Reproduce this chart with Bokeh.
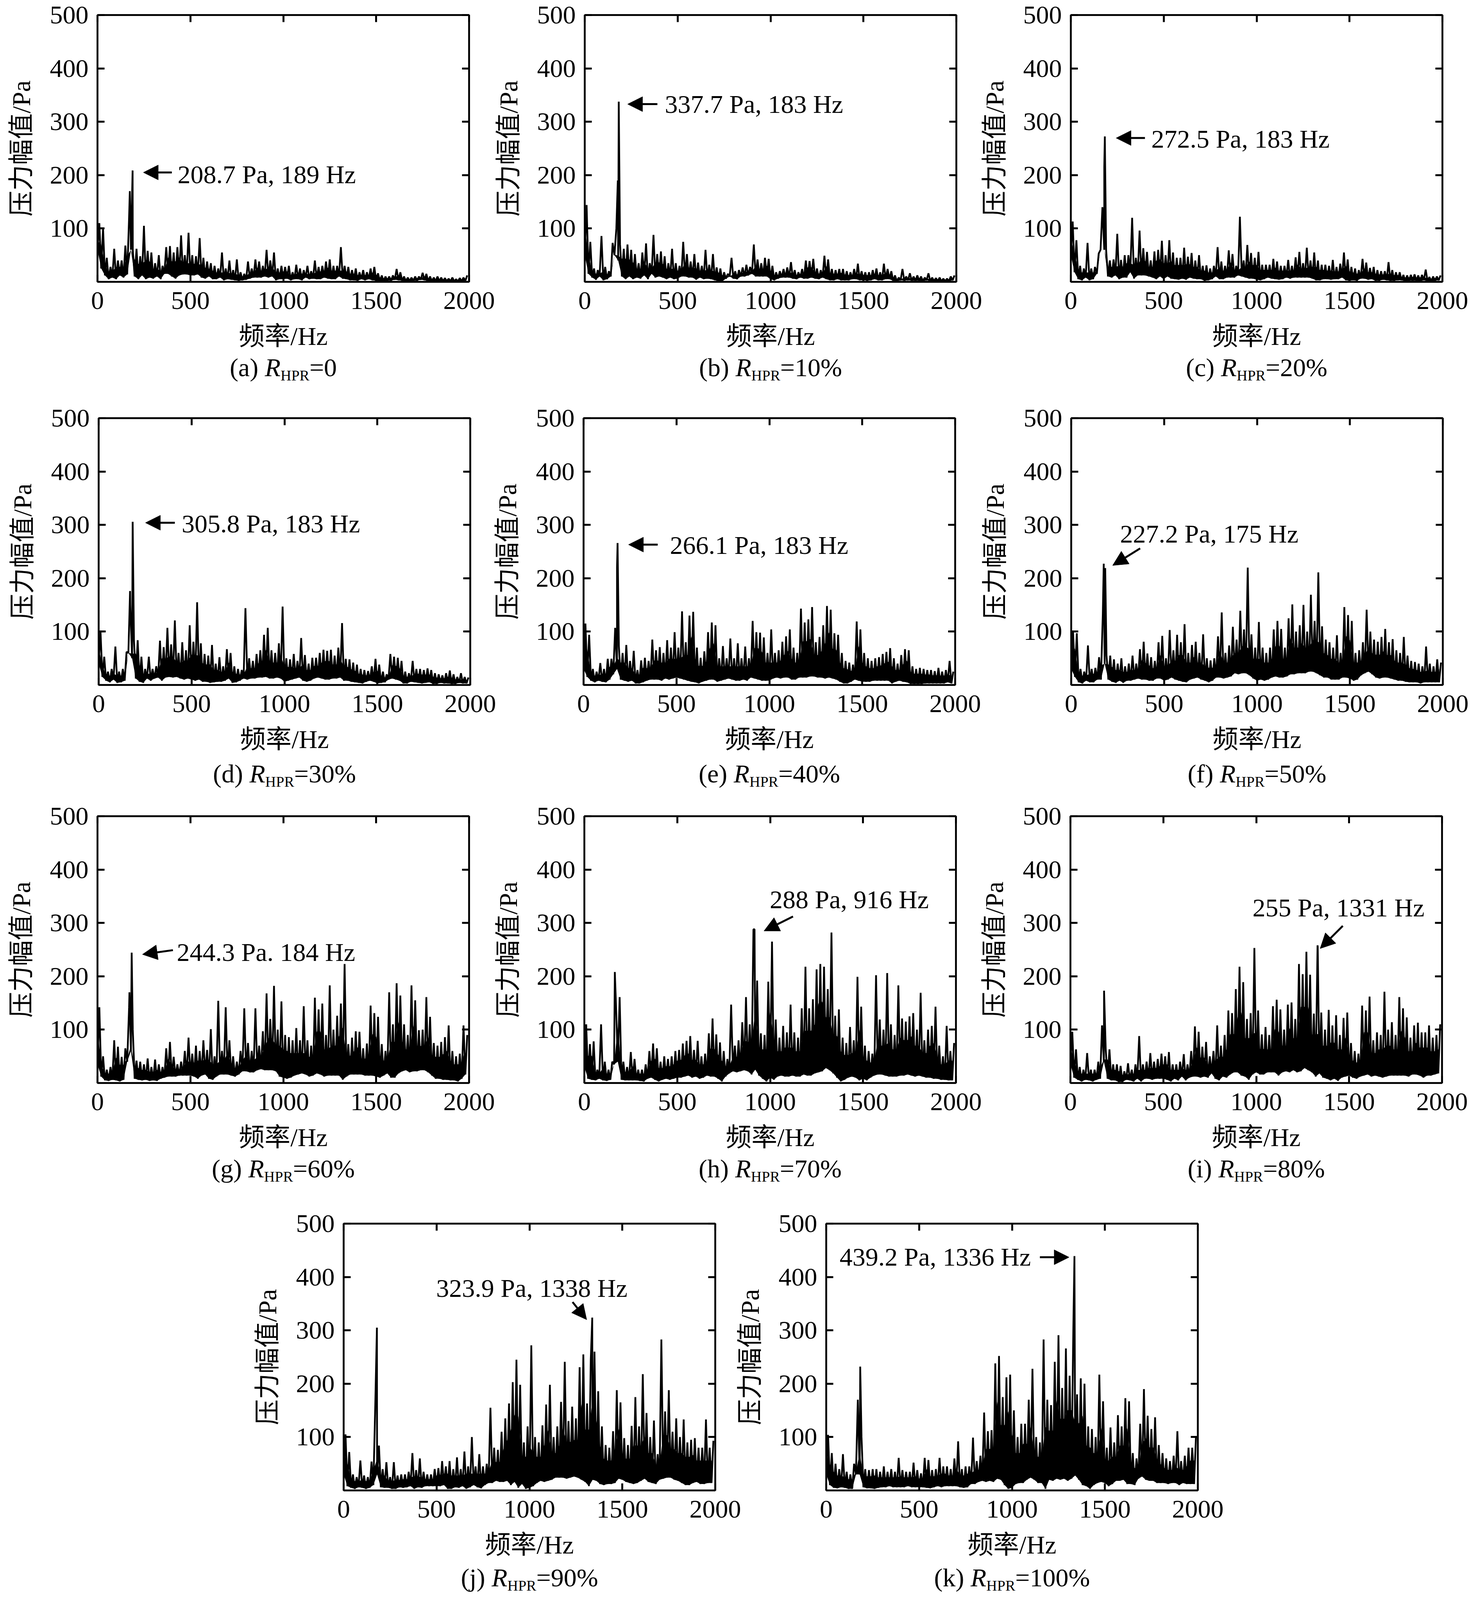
import math
import numpy as np
from bokeh.plotting import figure
from bokeh.layouts import column, row
from bokeh.models import Arrow, NormalHead, LinearAxis, FixedTicker, Range1d, Spacer
from bokeh.core.properties import value
from bokeh.embed import file_html
from bokeh.resources import INLINE

# ---- values: upper / lower readings per 20 Hz bin ----
hi_a = [110,100,45,28,62,40,40,68,120,60, 62,48,105,58,55,35,50,30,65,67, 55,65,87,50,92,50,48,82,45,38, 35,30,25,55,25,40,22,42,18,15, 38,25,42,38,30,60,40,55,25,30, 28,30,18,32,25,22,30,20,40,28, 30,38,42,30,30,65,30,28,22,25, 18,22,18,25,28,16,12,10,10,12, 24,18,10,8,8,10,10,17,15,10, 8,10,8,7,6,8,5,7,8,12]
lo_a = [60,25,12,5,8,5,12,8,14,60, 10,5,12,5,8,6,10,5,15,15, 10,6,12,14,14,12,12,14,8,6, 10,5,5,8,3,5,4,3,2,3, 4,6,8,8,8,10,8,10,3,5, 5,6,3,5,5,3,8,5,6,5, 5,8,6,5,5,10,6,5,3,3, 2,5,3,5,3,2,1,1,2,2, 4,3,2,1,1,2,2,4,3,1, 1,1,1,1,1,1,1,1,1,2]
hi_b = [144,75,25,22,86,28,20,73,100,70, 62,70,60,52,35,55,72,35,88,52, 57,48,35,62,35,30,75,52,38,52, 36,30,60,32,52,27,25,18,15,45, 20,22,27,32,28,70,42,35,45,43, 30,18,20,24,27,37,22,18,24,40, 39,43,25,22,49,42,24,22,24,24, 20,18,24,34,20,18,18,22,25,18, 34,24,20,12,8,24,10,16,10,12, 10,8,16,8,7,8,6,6,10,12]
lo_b = [50,15,8,4,10,3,5,10,50,40, 10,5,10,5,8,6,12,5,15,8, 10,8,5,8,5,6,10,10,8,8, 4,8,5,6,5,3,1,1,6,10, 6,5,10,10,12,15,10,10,10,10, 5,3,6,8,8,8,6,5,8,6, 6,8,6,5,8,5,3,3,5,3, 3,3,5,5,3,3,2,3,5,3, 3,5,5,2,1,3,2,3,2,2, 2,1,3,1,1,1,1,1,1,3]
hi_c = [113,78,30,25,73,25,28,53,140,60, 40,42,90,41,50,50,120,45,96,63, 56,40,57,60,77,50,78,55,45,45, 64,47,54,40,50,30,31,25,30,65, 38,30,59,52,30,122,40,69,54,45, 56,32,32,32,43,38,30,30,41,30, 46,56,35,64,40,55,40,32,32,30, 41,28,34,55,42,28,25,22,43,36, 26,28,22,20,20,37,22,18,18,13, 12,13,14,12,13,23,9,10,10,12]
lo_c = [50,18,5,3,8,3,5,15,60,60, 10,8,12,5,8,8,18,6,12,12, 12,10,8,5,10,5,10,6,5,4, 6,4,8,6,5,5,2,3,5,10, 5,5,8,8,8,12,10,8,6,6, 4,3,5,8,6,5,4,5,8,6, 8,8,8,8,8,6,3,3,5,5, 4,5,5,8,3,2,3,2,6,6, 4,5,2,2,4,3,2,2,3,3, 1,2,2,2,1,3,1,1,2,3]
hi_d = [100,53,25,30,72,25,30,62,150,84, 84,53,30,53,30,35,83,71,107,76, 121,60,80,65,112,81,155,78,58,55, 75,40,52,35,67,60,35,30,28,144, 50,45,58,65,94,107,65,60,78,147, 50,48,58,45,88,56,40,51,51,60, 66,64,66,55,70,116,49,48,42,38, 30,28,26,35,49,38,25,20,58,53, 51,45,25,22,45,30,30,28,31,28, 22,20,18,22,27,20,15,22,15,14]
lo_d = [40,15,8,5,10,4,5,8,60,50, 12,6,4,12,8,12,14,8,14,15, 14,15,12,10,12,10,8,10,6,6, 4,5,6,6,8,12,4,5,8,12, 10,12,12,14,14,15,12,12,14,12, 6,8,10,12,14,8,6,8,12,14, 12,10,10,12,12,14,8,8,6,5, 4,3,6,8,6,3,4,5,10,12, 10,8,3,3,6,5,4,3,4,5, 2,2,4,3,3,2,2,4,3,3]
hi_e = [115,94,30,25,41,30,49,49,107,73, 60,75,45,64,28,46,51,45,85,65, 71,60,84,70,99,70,138,80,130,137, 70,51,63,99,117,112,50,73,50,87, 50,78,50,72,50,120,99,98,89,60, 104,60,65,81,91,104,70,60,143,117, 123,146,80,90,112,148,141,97,94,60, 45,42,38,119,104,60,50,45,50,52, 58,62,69,50,40,56,67,65,35,30, 32,30,28,28,26,32,25,28,45,25]
lo_e = [30,15,8,5,8,6,5,10,20,30, 10,8,6,8,3,3,5,8,10,10, 10,8,12,10,12,14,12,10,8,6, 5,3,6,8,10,10,6,8,10,12, 10,8,8,10,8,14,12,10,8,8, 8,12,14,12,14,14,10,10,14,14, 14,16,16,14,14,12,14,12,10,6, 3,3,6,10,8,6,6,6,8,8, 8,8,8,3,6,8,6,5,2,2, 2,2,3,3,3,3,3,3,5,3]
hi_f = [99,97,30,25,74,30,32,52,132,55, 55,48,40,50,35,40,55,40,67,81, 59,52,45,80,92,50,103,65,94,80, 114,60,75,81,60,95,50,46,50,91, 136,60,74,109,85,139,104,220,95,70, 118,70,60,70,104,120,105,70,125,151, 100,112,150,100,169,120,211,110,85,80, 70,93,60,146,131,120,60,65,80,141, 100,85,81,90,105,80,86,65,60,90, 55,45,43,40,35,72,40,35,48,42]
lo_f = [30,15,5,3,8,5,5,10,10,40, 10,6,4,8,4,8,8,10,12,10, 10,8,8,12,12,8,10,14,10,8, 6,5,10,12,14,10,8,5,8,14, 14,12,14,16,22,20,22,22,18,12, 8,10,8,10,14,16,14,14,16,20, 20,22,22,22,25,25,22,18,14,14, 10,10,10,14,14,12,8,10,18,22, 25,20,14,12,14,14,12,10,8,8, 6,5,5,5,3,5,5,5,5,5]
hi_g = [142,50,25,30,80,68,49,65,141,100, 42,40,35,46,30,44,35,30,65,77, 49,35,40,60,85,55,70,60,80,62, 101,50,154,60,142,80,50,40,60,140, 75,60,140,70,97,168,120,182,100,153, 90,86,80,103,80,144,80,70,160,138, 149,90,183,100,126,149,223,73,85,97, 96,65,74,145,131,124,73,60,170,110, 187,164,110,90,183,155,99,100,161,124, 75,70,77,86,108,60,50,55,108,90]
lo_g = [35,12,5,4,6,5,3,6,40,60, 8,6,5,6,4,5,4,8,10,12, 12,12,14,14,14,14,12,8,14,16, 8,6,12,16,16,16,14,12,16,22, 22,20,20,24,26,24,24,24,22,12, 10,8,10,14,16,18,16,12,14,18, 16,12,14,14,14,14,6,12,16,16, 16,16,14,14,14,12,10,14,18,10, 10,18,22,24,20,22,22,24,24,20, 14,8,8,6,6,5,5,3,8,16]
hi_h = [110,73,78,25,110,40,25,40,150,161, 40,30,58,45,25,25,35,60,74,65, 40,50,45,50,60,62,74,79,88,62, 79,50,55,93,121,91,76,60,45,147, 70,80,114,161,110,288,192,93,90,190, 265,119,85,107,95,147,95,85,140,218, 140,157,213,223,218,176,282,126,138,85, 75,105,80,199,143,70,60,55,202,119, 100,206,110,90,183,121,115,125,131,100, 169,80,100,107,143,70,50,107,60,75]
lo_h = [30,8,6,5,8,5,4,6,35,40, 6,5,5,5,5,4,3,8,10,6, 3,6,8,6,8,10,10,12,14,10, 12,8,10,14,12,12,8,3,12,18, 22,20,22,24,22,16,25,14,8,3, 10,6,12,14,12,12,14,12,12,16, 14,14,18,20,22,28,24,18,10,3, 6,10,12,10,5,8,5,10,14,16, 16,14,12,12,12,14,14,16,14,12, 14,12,10,10,8,8,6,6,5,5]
hi_i = [96,63,30,25,56,25,25,40,108,63, 63,35,35,32,22,37,25,35,88,35, 40,56,40,45,55,50,58,35,35,40, 54,35,60,106,96,68,77,50,60,108, 70,90,136,131,176,218,189,120,131,253, 136,91,105,90,144,156,138,100,147,151, 120,223,204,246,203,130,258,132,100,137, 108,127,90,122,132,75,60,55,145,136, 162,80,95,90,171,100,114,90,161,140, 123,85,108,113,95,95,108,85,90,110]
lo_i = [35,10,6,3,6,5,3,6,8,40, 8,5,5,2,2,6,5,3,8,3, 8,8,6,8,8,8,6,3,8,5, 12,5,10,12,12,10,12,10,18,8, 5,12,10,16,20,20,14,12,6,16, 20,16,16,20,20,20,14,20,22,20, 24,20,22,28,24,20,12,18,10,8, 5,8,4,10,12,14,10,8,12,14, 16,12,14,12,10,12,14,14,14,14, 14,12,16,16,14,10,14,14,16,18]
hi_j = [105,72,30,25,56,28,25,54,158,84, 40,53,25,53,28,30,30,35,70,38, 60,35,30,30,40,42,55,45,55,40, 62,40,73,45,100,45,68,45,50,155, 80,76,110,135,163,203,245,198,90,120, 272,100,90,122,161,198,100,120,166,241, 130,157,135,231,255,163,245,260,186,120, 85,80,111,188,165,98,85,121,175,120, 218,145,100,131,68,283,148,188,110,135, 100,133,90,95,98,80,80,133,80,93]
lo_j = [30,8,5,3,6,5,3,5,10,30, 6,5,5,3,3,6,5,6,8,3, 6,5,8,8,8,8,8,10,3,3, 6,5,8,3,6,10,6,4,10,14, 14,18,16,16,18,10,16,5,12,3, 5,8,14,18,16,18,20,24,24,24, 22,24,26,24,20,16,8,20,18,12, 10,12,12,14,22,20,16,14,12,14, 18,22,16,14,12,20,22,24,24,20, 18,14,10,10,14,16,12,12,14,14]
hi_k = [104,70,50,40,68,35,30,50,170,100, 40,38,40,40,35,45,35,40,35,61, 38,35,35,52,38,32,61,57,38,40, 61,45,45,40,60,92,40,45,45,99, 55,65,146,111,113,238,252,175,212,217, 150,100,125,125,170,228,100,90,283,170, 160,241,291,192,266,215,304,180,210,200, 120,115,100,217,167,80,118,90,141,120, 173,167,70,60,125,190,140,115,137,85, 70,60,55,65,111,55,65,80,80,101]
lo_k = [30,10,5,4,6,5,3,3,30,30, 6,4,4,3,5,6,6,8,6,6, 6,6,8,6,6,6,6,5,4,6, 8,6,8,8,8,8,6,5,6,12, 12,16,18,16,18,16,22,20,10,3, 5,12,14,14,20,24,20,14,14,3, 20,18,22,20,22,18,22,28,20,10, 8,3,10,14,16,14,8,12,18,18, 20,12,12,10,22,26,20,18,18,14, 14,14,12,14,14,10,14,12,12,12]

# annotated peak of each panel and the second tall spike
peak_f = [189,183,183,183,183,175,184,916,1331,1338,1336]
peak_a = [208.7,337.7,272.5,305.8,266.1,227.2,244.3,288,255,323.9,439.2]
second_f = [174,178,180,169,180,183,172,164,181,179,183]
second_a = [170,190,215,176,220,219,170,208,173,305,232]

notes = ["208.7 Pa, 189 Hz","337.7 Pa, 183 Hz","272.5 Pa, 183 Hz","305.8 Pa, 183 Hz","266.1 Pa, 183 Hz",
         "227.2 Pa, 175 Hz","244.3 Pa. 184 Hz","288 Pa, 916 Hz","255 Pa, 1331 Hz","323.9 Pa, 1338 Hz","439.2 Pa, 1336 Hz"]
letters = list("abcdefghijk")
ratios = ["0","10%","20%","30%","40%","50%","60%","70%","80%","90%","100%"]
x_ticks = [0,500,1000,1500,2000]
y_ticks = [100,200,300,400,500]
y_title = "压力幅值/Pa"
x_title = "频率/Hz"
hi_all = [hi_a,hi_b,hi_c,hi_d,hi_e,hi_f,hi_g,hi_h,hi_i,hi_j,hi_k]
lo_all = [lo_a,lo_b,lo_c,lo_d,lo_e,lo_f,lo_g,lo_h,lo_i,lo_j,lo_k]
for s in hi_all + lo_all:
    assert len(s) == 100, len(s)

# ---- layout (pixels) ----
FW, FH = 951, 683
SERIF = "Liberation Serif"
MIXED = "Liberation Serif, Noto Sans CJK SC"
FS = 66
SUB = 38
MT = 38
rows_def = [
    dict(idx=[0,1,2], L=[249,1496,2740], T=38, next_T=1070, cap=241),
    dict(idx=[3,4,5], L=[252,1493,2741], T=1070, next_T=2089, cap=249),
    dict(idx=[6,7,8], L=[249,1495,2739], T=2089, next_T=3132, cap=241),
    dict(idx=[9,10], L=[879,2114], T=3132, next_T=4090+MT, cap=245),
]
# text x (Hz), text middle y (Pa), arrow tail x, y, tip x, y
ann = [
    (431,201, 400,205, 247,205),
    (431,333, 391,333, 231,333),
    (433,268, 399,269.5, 244,269.5),
    (447,302, 410,304, 252,304),
    (465,262, 399,263, 242,263),
    (263,283, 371,256, 223,224),
    (427,245, 406,249, 242,241),
    (998,344, 1123,312, 967,285),
    (980,329, 1466,294.5, 1344,252),
    (498,379, 1232,353, 1308,320),
    (72,438, 1150,437, 1307,437),
]
W = {'(':.333,')':.333,' ':.25,'=':.564,'%':.833,'a':.444,'b':.5,'c':.444,'d':.5,'e':.444,'f':.333,'g':.5,'h':.5,'i':.278,'j':.278,'k':.5}
def tw(s):
    return sum(W.get(c,.5) for c in s)*FS

def series(i):
    x = list(np.arange(0,2000,20)) + list(np.arange(10,2000,20)) + [peak_f[i], second_f[i]]
    y = list(lo_all[i]) + list(hi_all[i]) + [peak_a[i], second_a[i]]
    order = np.argsort(x, kind="stable")
    return [float(x[k]) for k in order], [float(y[k]) for k in order]

def lab(fig, text, px, py, font=SERIF, size=FS, align="left", style="normal", angle=0):
    # px, py are pixels from the frame's lower-left corner
    fig.text(x=[px/FW*2000], y=[py/FH*500], text=[text], text_font=value(font), text_font_size=value(f"{size}px"),
             text_color="black", text_baseline="middle", text_align=align, text_font_style=style, angle=angle,
             level="annotation")

def panel(i, L, start, right_end, bottom, cap):
    p = figure(width=right_end-start, height=MT+FH+bottom, output_backend="svg", toolbar_location=None,
               x_range=Range1d(0,2000), y_range=Range1d(0,500), x_axis_type=None, y_axis_type=None,
               min_border_left=L-start, min_border_right=right_end-L-FW, min_border_top=MT, min_border_bottom=bottom,
               background_fill_color="white", border_fill_color=None)
    p.grid.visible = False
    p.outline_line_color = "black"
    p.outline_line_width = 4
    # solid body of the spectrum: between the lower reading and the smaller neighbouring upper reading
    lo, hi = np.array(lo_all[i], float), np.array(hi_all[i], float)
    grid = np.arange(0, 2000, 20)
    top = 0.7*np.minimum(hi, np.r_[hi[0], hi[:-1]])
    p.varea(x=grid, y1=lo, y2=np.maximum(top, lo), fill_color="black")
    xs, ys = series(i)
    p.line(xs, ys, line_color="black", line_width=4.5, line_join="bevel")
    for side in ("below","above"):
        ax = LinearAxis(ticker=FixedTicker(ticks=x_ticks), major_tick_in=18, major_tick_out=0, minor_tick_line_color=None,
                        major_tick_line_width=5, axis_line_width=4.5, major_tick_line_color="black", axis_line_color="black")
        if side == "below":
            ax.major_label_text_font = SERIF; ax.major_label_text_font_size = f"{FS}px"; ax.major_label_text_color = "black"
            ax.major_label_standoff = 26
        else:
            ax.major_label_text_font_size = "0px"; ax.major_label_text_color = None; ax.major_label_standoff = 0
        p.add_layout(ax, side)
    for side in ("left","right"):
        ax = LinearAxis(ticker=FixedTicker(ticks=y_ticks), major_tick_in=18, major_tick_out=0, minor_tick_line_color=None,
                        major_tick_line_width=5, axis_line_width=4.5, major_tick_line_color="black", axis_line_color="black")
        if side == "left":
            ax.major_label_text_font = SERIF; ax.major_label_text_font_size = f"{FS}px"; ax.major_label_text_color = "black"
            ax.major_label_standoff = 23
        else:
            ax.major_label_text_font_size = "0px"; ax.major_label_text_color = None; ax.major_label_standoff = 0
        p.add_layout(ax, side)
    tx, ty, ax0, ay0, ax1, ay1 = ann[i]
    lab(p, notes[i], tx/2000*FW, ty/500*FH)
    p.add_layout(Arrow(end=NormalHead(size=38, fill_color="black", line_color="black", line_width=1),
                       x_start=ax0, y_start=ay0, x_end=ax1, y_end=ay1, line_color="black", line_width=5))
    lab(p, x_title, FW/2, -139, font=MIXED, align="center")
    a = f"({letters[i]})"
    b = "=" + ratios[i]
    total = tw(a) + .25*FS + .611*FS + 1.945*SUB + tw(b)
    x0 = FW/2 - total/2
    lab(p, a, x0, -cap+22)
    x0 += tw(a) + .25*FS
    lab(p, "R", x0, -cap+22, style="italic")
    x0 += .611*FS
    lab(p, "HPR", x0, -cap+2, size=SUB)
    x0 += 1.945*SUB
    lab(p, b, x0, -cap+22)
    return p

children = []
for r, rd in enumerate(rows_def):
    mb = rd["next_T"] - rd["T"] - MT - FH
    idx, Ls = rd["idx"], rd["L"]
    # first panel of a row keeps room for its own y title; later panels have theirs drawn by their left neighbour
    first_start = 0 if Ls[0] < 300 else Ls[0]-245
    starts = [first_start] + [Ls[k]-128 for k in range(1, len(idx))]
    ends = starts[1:] + [min(Ls[-1]+FW+75, 3775)]
    figs = [panel(idx[k], Ls[k], starts[k], ends[k], mb, rd["cap"]) for k in range(len(idx))]
    for k in range(len(idx)):
        host = max(k-1, 0)
        lab(figs[host], y_title, Ls[k]-Ls[host]-195, FH/2, font=MIXED, align="center", angle=math.pi/2)
    items = figs if first_start == 0 else [Spacer(width=first_start, height=10)] + figs
    children.append(row(*items, spacing=0))
page = column(*children, spacing=0)
open("out.html","w").write(file_html(page, INLINE))
